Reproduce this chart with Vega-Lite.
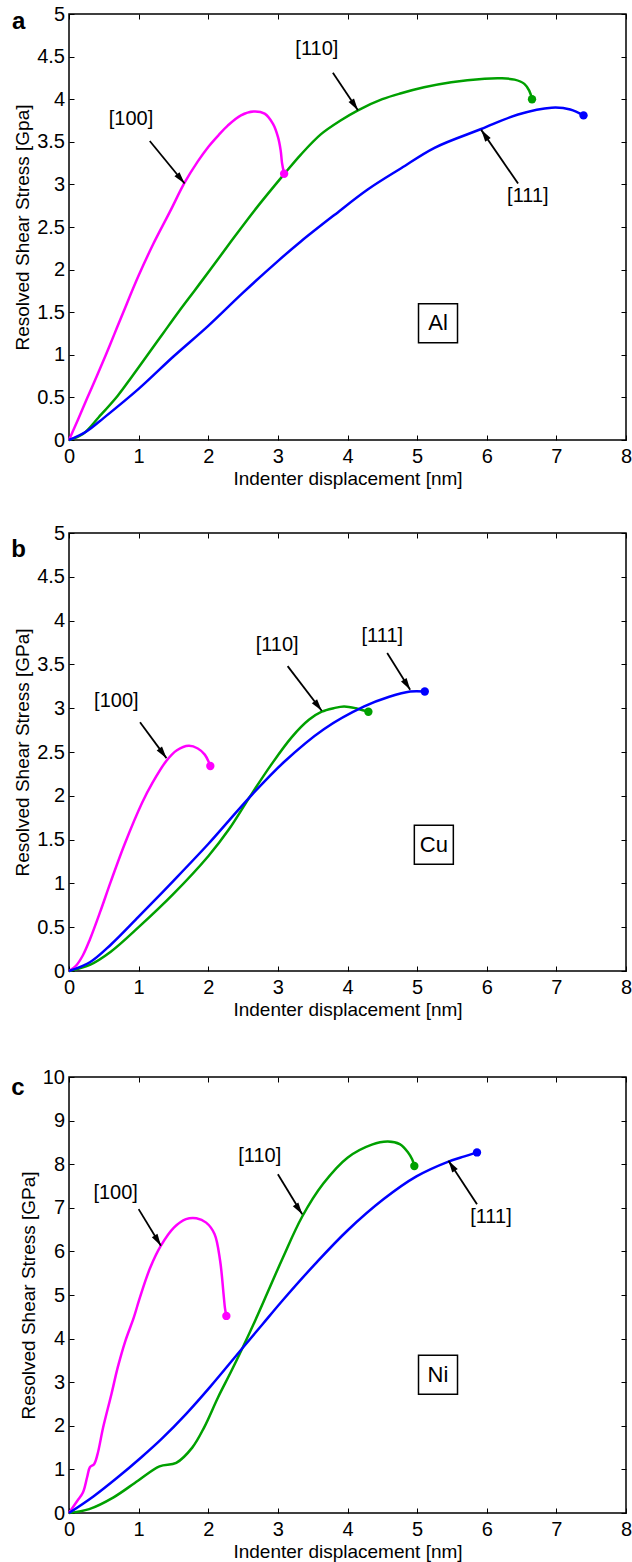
{
  "$schema": "https://vega.github.io/schema/vega-lite/v6.json",
  "padding": {"left": 10, "top": 3, "right": 5, "bottom": 5},
  "spacing": 32,
  "config": {
    "view": {"stroke": "black", "strokeWidth": 1.5},
    "font": "Liberation Sans",
    "axis": {"domain": false, "grid": false, "ticks": true, "tickSize": -5, "tickColor": "black", "tickWidth": 1,
      "labelFont": "Liberation Sans", "labelFontSize": 20, "labelColor": "black", "labelFlush": false, "labelOverlap": false,
      "titleFont": "Liberation Sans", "titleFontSize": 19, "titleFontWeight": "normal", "titleColor": "black"},
    "text": {"font": "Liberation Sans", "color": "black"}
  },
  "datasets": {
    "curves": [
      {"p":"a","dir":"[100]","x":0,"y":0},{"p":"a","dir":"[100]","x":0.13,"y":0.24},{"p":"a","dir":"[100]","x":0.26,"y":0.49},{"p":"a","dir":"[100]","x":0.4,"y":0.75},{"p":"a","dir":"[100]","x":0.53,"y":1.0},{"p":"a","dir":"[100]","x":0.65,"y":1.24},{"p":"a","dir":"[100]","x":0.78,"y":1.5},{"p":"a","dir":"[100]","x":1.0,"y":1.93},{"p":"a","dir":"[100]","x":1.21,"y":2.3},{"p":"a","dir":"[100]","x":1.45,"y":2.68},{"p":"a","dir":"[100]","x":1.66,"y":3.02},{"p":"a","dir":"[100]","x":1.85,"y":3.27},{"p":"a","dir":"[100]","x":2.0,"y":3.44},{"p":"a","dir":"[100]","x":2.15,"y":3.58},{"p":"a","dir":"[100]","x":2.28,"y":3.69},{"p":"a","dir":"[100]","x":2.47,"y":3.81},{"p":"a","dir":"[100]","x":2.65,"y":3.855},{"p":"a","dir":"[100]","x":2.81,"y":3.83},{"p":"a","dir":"[100]","x":2.93,"y":3.71},{"p":"a","dir":"[100]","x":3.0,"y":3.56},{"p":"a","dir":"[100]","x":3.04,"y":3.4},{"p":"a","dir":"[100]","x":3.06,"y":3.25},{"p":"a","dir":"[100]","x":3.09,"y":3.125},
      {"p":"a","dir":"[110]","x":0,"y":0},{"p":"a","dir":"[110]","x":0.2,"y":0.07},{"p":"a","dir":"[110]","x":0.43,"y":0.27},{"p":"a","dir":"[110]","x":0.7,"y":0.52},{"p":"a","dir":"[110]","x":0.9,"y":0.74},{"p":"a","dir":"[110]","x":1.13,"y":1.0},{"p":"a","dir":"[110]","x":1.35,"y":1.25},{"p":"a","dir":"[110]","x":1.57,"y":1.5},{"p":"a","dir":"[110]","x":1.8,"y":1.75},{"p":"a","dir":"[110]","x":2.03,"y":2.0},{"p":"a","dir":"[110]","x":2.3,"y":2.3},{"p":"a","dir":"[110]","x":2.67,"y":2.7},{"p":"a","dir":"[110]","x":3.09,"y":3.12},{"p":"a","dir":"[110]","x":3.33,"y":3.35},{"p":"a","dir":"[110]","x":3.62,"y":3.59},{"p":"a","dir":"[110]","x":3.9,"y":3.75},{"p":"a","dir":"[110]","x":4.15,"y":3.87},{"p":"a","dir":"[110]","x":4.5,"y":4.0},{"p":"a","dir":"[110]","x":4.77,"y":4.07},{"p":"a","dir":"[110]","x":5.1,"y":4.14},{"p":"a","dir":"[110]","x":5.49,"y":4.2},{"p":"a","dir":"[110]","x":5.97,"y":4.24},{"p":"a","dir":"[110]","x":6.2,"y":4.245},{"p":"a","dir":"[110]","x":6.4,"y":4.23},{"p":"a","dir":"[110]","x":6.54,"y":4.18},{"p":"a","dir":"[110]","x":6.61,"y":4.1},{"p":"a","dir":"[110]","x":6.65,"y":4.0},
      {"p":"a","dir":"[111]","x":0,"y":0},{"p":"a","dir":"[111]","x":0.25,"y":0.1},{"p":"a","dir":"[111]","x":0.5,"y":0.26},{"p":"a","dir":"[111]","x":1.0,"y":0.6},{"p":"a","dir":"[111]","x":1.5,"y":0.98},{"p":"a","dir":"[111]","x":2.0,"y":1.34},{"p":"a","dir":"[111]","x":2.5,"y":1.73},{"p":"a","dir":"[111]","x":3.0,"y":2.1},{"p":"a","dir":"[111]","x":3.33,"y":2.33},{"p":"a","dir":"[111]","x":3.81,"y":2.64},{"p":"a","dir":"[111]","x":4.29,"y":2.94},{"p":"a","dir":"[111]","x":4.77,"y":3.19},{"p":"a","dir":"[111]","x":5.25,"y":3.43},{"p":"a","dir":"[111]","x":5.92,"y":3.65},{"p":"a","dir":"[111]","x":6.45,"y":3.82},{"p":"a","dir":"[111]","x":6.93,"y":3.9},{"p":"a","dir":"[111]","x":7.2,"y":3.88},{"p":"a","dir":"[111]","x":7.39,"y":3.81},
      {"p":"b","dir":"[100]","x":0,"y":0},{"p":"b","dir":"[100]","x":0.1,"y":0.06},{"p":"b","dir":"[100]","x":0.2,"y":0.18},{"p":"b","dir":"[100]","x":0.3,"y":0.36},{"p":"b","dir":"[100]","x":0.45,"y":0.68},{"p":"b","dir":"[100]","x":0.6,"y":1.02},{"p":"b","dir":"[100]","x":0.8,"y":1.45},{"p":"b","dir":"[100]","x":1.05,"y":1.92},{"p":"b","dir":"[100]","x":1.2,"y":2.15},{"p":"b","dir":"[100]","x":1.4,"y":2.4},{"p":"b","dir":"[100]","x":1.55,"y":2.52},{"p":"b","dir":"[100]","x":1.72,"y":2.57},{"p":"b","dir":"[100]","x":1.85,"y":2.54},{"p":"b","dir":"[100]","x":1.95,"y":2.47},{"p":"b","dir":"[100]","x":2.01,"y":2.38},{"p":"b","dir":"[100]","x":2.03,"y":2.34},
      {"p":"b","dir":"[110]","x":0,"y":0},{"p":"b","dir":"[110]","x":0.3,"y":0.07},{"p":"b","dir":"[110]","x":0.6,"y":0.22},{"p":"b","dir":"[110]","x":1.0,"y":0.5},{"p":"b","dir":"[110]","x":1.5,"y":0.88},{"p":"b","dir":"[110]","x":2.0,"y":1.31},{"p":"b","dir":"[110]","x":2.3,"y":1.62},{"p":"b","dir":"[110]","x":2.59,"y":1.98},{"p":"b","dir":"[110]","x":2.9,"y":2.35},{"p":"b","dir":"[110]","x":3.2,"y":2.67},{"p":"b","dir":"[110]","x":3.45,"y":2.87},{"p":"b","dir":"[110]","x":3.63,"y":2.96},{"p":"b","dir":"[110]","x":3.8,"y":3.0},{"p":"b","dir":"[110]","x":3.95,"y":3.02},{"p":"b","dir":"[110]","x":4.12,"y":3.0},{"p":"b","dir":"[110]","x":4.25,"y":2.97},{"p":"b","dir":"[110]","x":4.3,"y":2.96},
      {"p":"b","dir":"[111]","x":0,"y":0},{"p":"b","dir":"[111]","x":0.3,"y":0.1},{"p":"b","dir":"[111]","x":0.6,"y":0.3},{"p":"b","dir":"[111]","x":1.0,"y":0.62},{"p":"b","dir":"[111]","x":1.5,"y":1.03},{"p":"b","dir":"[111]","x":2.0,"y":1.45},{"p":"b","dir":"[111]","x":2.3,"y":1.72},{"p":"b","dir":"[111]","x":2.59,"y":1.98},{"p":"b","dir":"[111]","x":3.08,"y":2.38},{"p":"b","dir":"[111]","x":3.66,"y":2.76},{"p":"b","dir":"[111]","x":4.24,"y":3.02},{"p":"b","dir":"[111]","x":4.6,"y":3.13},{"p":"b","dir":"[111]","x":4.9,"y":3.19},{"p":"b","dir":"[111]","x":5.11,"y":3.19},
      {"p":"c","dir":"[100]","x":0,"y":0},{"p":"c","dir":"[100]","x":0.12,"y":0.28},{"p":"c","dir":"[100]","x":0.2,"y":0.47},{"p":"c","dir":"[100]","x":0.26,"y":0.82},{"p":"c","dir":"[100]","x":0.3,"y":1.05},{"p":"c","dir":"[100]","x":0.36,"y":1.12},{"p":"c","dir":"[100]","x":0.41,"y":1.35},{"p":"c","dir":"[100]","x":0.49,"y":1.96},{"p":"c","dir":"[100]","x":0.61,"y":2.73},{"p":"c","dir":"[100]","x":0.7,"y":3.34},{"p":"c","dir":"[100]","x":0.81,"y":3.95},{"p":"c","dir":"[100]","x":0.93,"y":4.48},{"p":"c","dir":"[100]","x":1.01,"y":4.9},{"p":"c","dir":"[100]","x":1.16,"y":5.6},{"p":"c","dir":"[100]","x":1.32,"y":6.13},{"p":"c","dir":"[100]","x":1.51,"y":6.55},{"p":"c","dir":"[100]","x":1.68,"y":6.74},{"p":"c","dir":"[100]","x":1.83,"y":6.76},{"p":"c","dir":"[100]","x":1.97,"y":6.66},{"p":"c","dir":"[100]","x":2.09,"y":6.4},{"p":"c","dir":"[100]","x":2.17,"y":5.79},{"p":"c","dir":"[100]","x":2.22,"y":5.02},{"p":"c","dir":"[100]","x":2.24,"y":4.7},{"p":"c","dir":"[100]","x":2.26,"y":4.52},
      {"p":"c","dir":"[110]","x":0,"y":0},{"p":"c","dir":"[110]","x":0.29,"y":0.09},{"p":"c","dir":"[110]","x":0.64,"y":0.36},{"p":"c","dir":"[110]","x":0.99,"y":0.74},{"p":"c","dir":"[110]","x":1.3,"y":1.07},{"p":"c","dir":"[110]","x":1.54,"y":1.15},{"p":"c","dir":"[110]","x":1.77,"y":1.5},{"p":"c","dir":"[110]","x":1.94,"y":1.96},{"p":"c","dir":"[110]","x":2.14,"y":2.65},{"p":"c","dir":"[110]","x":2.33,"y":3.25},{"p":"c","dir":"[110]","x":2.49,"y":3.78},{"p":"c","dir":"[110]","x":2.67,"y":4.4},{"p":"c","dir":"[110]","x":2.85,"y":5.05},{"p":"c","dir":"[110]","x":3.07,"y":5.85},{"p":"c","dir":"[110]","x":3.35,"y":6.8},{"p":"c","dir":"[110]","x":3.65,"y":7.55},{"p":"c","dir":"[110]","x":4.0,"y":8.15},{"p":"c","dir":"[110]","x":4.35,"y":8.45},{"p":"c","dir":"[110]","x":4.58,"y":8.52},{"p":"c","dir":"[110]","x":4.75,"y":8.46},{"p":"c","dir":"[110]","x":4.87,"y":8.27},{"p":"c","dir":"[110]","x":4.93,"y":8.11},{"p":"c","dir":"[110]","x":4.96,"y":7.96},
      {"p":"c","dir":"[111]","x":0,"y":0},{"p":"c","dir":"[111]","x":0.35,"y":0.38},{"p":"c","dir":"[111]","x":0.7,"y":0.82},{"p":"c","dir":"[111]","x":1.04,"y":1.28},{"p":"c","dir":"[111]","x":1.33,"y":1.7},{"p":"c","dir":"[111]","x":1.68,"y":2.27},{"p":"c","dir":"[111]","x":2.03,"y":2.9},{"p":"c","dir":"[111]","x":2.49,"y":3.78},{"p":"c","dir":"[111]","x":2.78,"y":4.33},{"p":"c","dir":"[111]","x":3.07,"y":4.88},{"p":"c","dir":"[111]","x":3.54,"y":5.72},{"p":"c","dir":"[111]","x":4.0,"y":6.48},{"p":"c","dir":"[111]","x":4.52,"y":7.2},{"p":"c","dir":"[111]","x":4.99,"y":7.72},{"p":"c","dir":"[111]","x":5.45,"y":8.06},{"p":"c","dir":"[111]","x":5.68,"y":8.18},{"p":"c","dir":"[111]","x":5.86,"y":8.27}
    ],
    "ends": [
      {"p":"a","dir":"[100]","x":3.09,"y":3.125},{"p":"a","dir":"[110]","x":6.65,"y":4.0},{"p":"a","dir":"[111]","x":7.39,"y":3.81},
      {"p":"b","dir":"[100]","x":2.03,"y":2.34},{"p":"b","dir":"[110]","x":4.3,"y":2.96},{"p":"b","dir":"[111]","x":5.11,"y":3.19},
      {"p":"c","dir":"[100]","x":2.26,"y":4.52},{"p":"c","dir":"[110]","x":4.96,"y":7.96},{"p":"c","dir":"[111]","x":5.86,"y":8.27}
    ],
    "notes": [
      {"p":"a","label":"[100]","x":0.89,"y":3.77},{"p":"a","label":"[110]","x":3.56,"y":4.59},{"p":"a","label":"[111]","x":6.59,"y":2.86},
      {"p":"b","label":"[100]","x":0.68,"y":3.08},{"p":"b","label":"[110]","x":2.99,"y":3.72},{"p":"b","label":"[111]","x":4.5,"y":3.82},
      {"p":"c","label":"[100]","x":0.67,"y":7.35},{"p":"c","label":"[110]","x":2.74,"y":8.19},{"p":"c","label":"[111]","x":6.06,"y":6.79}
    ],
    "arrows": [
      {"p":"a","x":1.16,"y":3.51,"x2":1.66,"y2":3.01,"angle":140.8},{"p":"a","x":3.79,"y":4.31,"x2":4.15,"y2":3.87,"angle":146.3},{"p":"a","x":6.45,"y":3.01,"x2":5.92,"y2":3.64,"angle":-34.5},
      {"p":"b","x":1.02,"y":2.84,"x2":1.4,"y2":2.43,"angle":143.7},{"p":"b","x":3.14,"y":3.48,"x2":3.63,"y2":2.97,"angle":142.7},{"p":"b","x":4.57,"y":3.63,"x2":4.9,"y2":3.21,"angle":148},
      {"p":"c","x":1.0,"y":6.97,"x2":1.32,"y2":6.13,"angle":148.7},{"p":"c","x":3.0,"y":7.77,"x2":3.35,"y2":6.85,"angle":146.3},{"p":"c","x":5.86,"y":7.08,"x2":5.45,"y2":8.08,"angle":-33.2}
    ],
    "boxes": [
      {"p":"a","label":"Al","x":5.3,"y":1.37},{"p":"b","label":"Cu","x":5.24,"y":1.44},{"p":"c","label":"Ni","x":5.3,"y":3.17}
    ],
    "letters": [
      {"p":"a","label":"a","x":-0.82,"y":4.82},{"p":"b","label":"b","x":-0.83,"y":4.73},{"p":"c","label":"c","x":-0.83,"y":9.59}
    ]
  },
  "vconcat": [
    {
      "width": 557, "height": 426,
      "layer": [
        {"data": {"name": "curves"}, "transform": [{"filter": "datum.p === 'a'"}],
         "mark": {"type": "line", "strokeWidth": 2.5, "interpolate": "catmull-rom"},
         "encoding": {
           "x": {"field": "x", "type": "quantitative", "scale": {"domain": [0, 8], "nice": false, "zero": false}, "axis": {"orient": "bottom", "values": [0,1,2,3,4,5,6,7,8], "title": "Indenter displacement [nm]", "labelPadding": 11.5, "titlePadding": 3}},
           "y": {"field": "y", "type": "quantitative", "scale": {"domain": [0, 5], "nice": false}, "axis": {"orient": "left", "values": [0,0.5,1,1.5,2,2.5,3,3.5,4,4.5,5], "format": "~f", "title": "Resolved Shear Stress [Gpa]", "labelPadding": 9.5, "titlePadding": 4}},
           "color": {"field": "dir", "type": "nominal", "scale": {"domain": ["[100]","[110]","[111]"], "range": ["#ff00ff","#00a000","#0000ff"]}, "legend": null}
         }},
        {"data": {"name": "ends"}, "transform": [{"filter": "datum.p === 'a'"}],
         "mark": {"type": "point", "shape": "circle", "filled": true, "size": 70, "opacity": 1},
         "encoding": {
           "x": {"field": "x", "type": "quantitative", "axis": {"orient": "top", "values": [0,1,2,3,4,5,6,7,8], "labels": false, "title": null}},
           "y": {"field": "y", "type": "quantitative", "axis": {"orient": "right", "values": [0,0.5,1,1.5,2,2.5,3,3.5,4,4.5,5], "labels": false, "title": null}},
           "color": {"field": "dir", "type": "nominal", "legend": null}
         }},
        {"data": {"name": "arrows"}, "transform": [{"filter": "datum.p === 'a'"}],
         "mark": {"type": "rule", "color": "black", "strokeWidth": 1.8},
         "encoding": {"x": {"field": "x", "type": "quantitative", "axis": null}, "y": {"field": "y", "type": "quantitative", "axis": null}, "x2": {"field": "x2"}, "y2": {"field": "y2"}}},
        {"data": {"name": "arrows"}, "transform": [{"filter": "datum.p === 'a'"}],
         "mark": {"type": "point", "shape": "M0,0L-0.55,2L0.55,2Z", "filled": true, "color": "black", "size": 144, "opacity": 1},
         "encoding": {"x": {"field": "x2", "type": "quantitative", "axis": null}, "y": {"field": "y2", "type": "quantitative", "axis": null}, "angle": {"field": "angle", "type": "quantitative", "scale": null}}},
        {"data": {"name": "notes"}, "transform": [{"filter": "datum.p === 'a'"}],
         "mark": {"type": "text", "fontSize": 20, "align": "center", "baseline": "middle"},
         "encoding": {"x": {"field": "x", "type": "quantitative", "axis": null}, "y": {"field": "y", "type": "quantitative", "axis": null}, "text": {"field": "label"}}},
        {"data": {"name": "boxes"}, "transform": [{"filter": "datum.p === 'a'"}],
         "mark": {"type": "point", "shape": "square", "size": 1521, "fill": "white", "stroke": "black", "strokeWidth": 1.5, "opacity": 1},
         "encoding": {"x": {"field": "x", "type": "quantitative", "axis": null}, "y": {"field": "y", "type": "quantitative", "axis": null}}},
        {"data": {"name": "boxes"}, "transform": [{"filter": "datum.p === 'a'"}],
         "mark": {"type": "text", "fontSize": 22, "align": "center", "baseline": "middle"},
         "encoding": {"x": {"field": "x", "type": "quantitative", "axis": null}, "y": {"field": "y", "type": "quantitative", "axis": null}, "text": {"field": "label"}}},
        {"data": {"name": "letters"}, "transform": [{"filter": "datum.p === 'a'"}],
         "mark": {"type": "text", "fontSize": 24, "fontWeight": "bold", "align": "left", "baseline": "alphabetic"},
         "encoding": {"x": {"field": "x", "type": "quantitative", "axis": null}, "y": {"field": "y", "type": "quantitative", "axis": null}, "text": {"field": "label"}}}
      ],
      "resolve": {"axis": {"x": "independent", "y": "independent"}}
    },
    {
      "width": 557, "height": 438,
      "layer": [
        {"data": {"name": "curves"}, "transform": [{"filter": "datum.p === 'b'"}],
         "mark": {"type": "line", "strokeWidth": 2.5, "interpolate": "catmull-rom"},
         "encoding": {
           "x": {"field": "x", "type": "quantitative", "scale": {"domain": [0, 8], "nice": false, "zero": false}, "axis": {"orient": "bottom", "values": [0,1,2,3,4,5,6,7,8], "title": "Indenter displacement [nm]", "labelPadding": 11.5, "titlePadding": 3}},
           "y": {"field": "y", "type": "quantitative", "scale": {"domain": [0, 5], "nice": false}, "axis": {"orient": "left", "values": [0,0.5,1,1.5,2,2.5,3,3.5,4,4.5,5], "format": "~f", "title": "Resolved Shear Stress [GPa]", "labelPadding": 9.5, "titlePadding": 4}},
           "color": {"field": "dir", "type": "nominal", "scale": {"domain": ["[100]","[110]","[111]"], "range": ["#ff00ff","#00a000","#0000ff"]}, "legend": null}
         }},
        {"data": {"name": "ends"}, "transform": [{"filter": "datum.p === 'b'"}],
         "mark": {"type": "point", "shape": "circle", "filled": true, "size": 70, "opacity": 1},
         "encoding": {
           "x": {"field": "x", "type": "quantitative", "axis": {"orient": "top", "values": [0,1,2,3,4,5,6,7,8], "labels": false, "title": null}},
           "y": {"field": "y", "type": "quantitative", "axis": {"orient": "right", "values": [0,0.5,1,1.5,2,2.5,3,3.5,4,4.5,5], "labels": false, "title": null}},
           "color": {"field": "dir", "type": "nominal", "legend": null}
         }},
        {"data": {"name": "arrows"}, "transform": [{"filter": "datum.p === 'b'"}],
         "mark": {"type": "rule", "color": "black", "strokeWidth": 1.8},
         "encoding": {"x": {"field": "x", "type": "quantitative", "axis": null}, "y": {"field": "y", "type": "quantitative", "axis": null}, "x2": {"field": "x2"}, "y2": {"field": "y2"}}},
        {"data": {"name": "arrows"}, "transform": [{"filter": "datum.p === 'b'"}],
         "mark": {"type": "point", "shape": "M0,0L-0.55,2L0.55,2Z", "filled": true, "color": "black", "size": 144, "opacity": 1},
         "encoding": {"x": {"field": "x2", "type": "quantitative", "axis": null}, "y": {"field": "y2", "type": "quantitative", "axis": null}, "angle": {"field": "angle", "type": "quantitative", "scale": null}}},
        {"data": {"name": "notes"}, "transform": [{"filter": "datum.p === 'b'"}],
         "mark": {"type": "text", "fontSize": 20, "align": "center", "baseline": "middle"},
         "encoding": {"x": {"field": "x", "type": "quantitative", "axis": null}, "y": {"field": "y", "type": "quantitative", "axis": null}, "text": {"field": "label"}}},
        {"data": {"name": "boxes"}, "transform": [{"filter": "datum.p === 'b'"}],
         "mark": {"type": "point", "shape": "square", "size": 1521, "fill": "white", "stroke": "black", "strokeWidth": 1.5, "opacity": 1},
         "encoding": {"x": {"field": "x", "type": "quantitative", "axis": null}, "y": {"field": "y", "type": "quantitative", "axis": null}}},
        {"data": {"name": "boxes"}, "transform": [{"filter": "datum.p === 'b'"}],
         "mark": {"type": "text", "fontSize": 22, "align": "center", "baseline": "middle"},
         "encoding": {"x": {"field": "x", "type": "quantitative", "axis": null}, "y": {"field": "y", "type": "quantitative", "axis": null}, "text": {"field": "label"}}},
        {"data": {"name": "letters"}, "transform": [{"filter": "datum.p === 'b'"}],
         "mark": {"type": "text", "fontSize": 24, "fontWeight": "bold", "align": "left", "baseline": "alphabetic"},
         "encoding": {"x": {"field": "x", "type": "quantitative", "axis": null}, "y": {"field": "y", "type": "quantitative", "axis": null}, "text": {"field": "label"}}}
      ],
      "resolve": {"axis": {"x": "independent", "y": "independent"}}
    },
    {
      "width": 557, "height": 436,
      "layer": [
        {"data": {"name": "curves"}, "transform": [{"filter": "datum.p === 'c'"}],
         "mark": {"type": "line", "strokeWidth": 2.5, "interpolate": "catmull-rom"},
         "encoding": {
           "x": {"field": "x", "type": "quantitative", "scale": {"domain": [0, 8], "nice": false, "zero": false}, "axis": {"orient": "bottom", "values": [0,1,2,3,4,5,6,7,8], "title": "Indenter displacement [nm]", "labelPadding": 11.5, "titlePadding": 3}},
           "y": {"field": "y", "type": "quantitative", "scale": {"domain": [0, 10], "nice": false}, "axis": {"orient": "left", "values": [0,1,2,3,4,5,6,7,8,9,10], "format": "d", "title": "Resolved Shear Stress [GPa]", "labelPadding": 9.5, "titlePadding": 4}},
           "color": {"field": "dir", "type": "nominal", "scale": {"domain": ["[100]","[110]","[111]"], "range": ["#ff00ff","#00a000","#0000ff"]}, "legend": null}
         }},
        {"data": {"name": "ends"}, "transform": [{"filter": "datum.p === 'c'"}],
         "mark": {"type": "point", "shape": "circle", "filled": true, "size": 70, "opacity": 1},
         "encoding": {
           "x": {"field": "x", "type": "quantitative", "axis": {"orient": "top", "values": [0,1,2,3,4,5,6,7,8], "labels": false, "title": null, "minExtent": 23}},
           "y": {"field": "y", "type": "quantitative", "axis": {"orient": "right", "values": [0,1,2,3,4,5,6,7,8,9,10], "labels": false, "title": null}},
           "color": {"field": "dir", "type": "nominal", "legend": null}
         }},
        {"data": {"name": "arrows"}, "transform": [{"filter": "datum.p === 'c'"}],
         "mark": {"type": "rule", "color": "black", "strokeWidth": 1.8},
         "encoding": {"x": {"field": "x", "type": "quantitative", "axis": null}, "y": {"field": "y", "type": "quantitative", "axis": null}, "x2": {"field": "x2"}, "y2": {"field": "y2"}}},
        {"data": {"name": "arrows"}, "transform": [{"filter": "datum.p === 'c'"}],
         "mark": {"type": "point", "shape": "M0,0L-0.55,2L0.55,2Z", "filled": true, "color": "black", "size": 144, "opacity": 1},
         "encoding": {"x": {"field": "x2", "type": "quantitative", "axis": null}, "y": {"field": "y2", "type": "quantitative", "axis": null}, "angle": {"field": "angle", "type": "quantitative", "scale": null}}},
        {"data": {"name": "notes"}, "transform": [{"filter": "datum.p === 'c'"}],
         "mark": {"type": "text", "fontSize": 20, "align": "center", "baseline": "middle"},
         "encoding": {"x": {"field": "x", "type": "quantitative", "axis": null}, "y": {"field": "y", "type": "quantitative", "axis": null}, "text": {"field": "label"}}},
        {"data": {"name": "boxes"}, "transform": [{"filter": "datum.p === 'c'"}],
         "mark": {"type": "point", "shape": "square", "size": 1521, "fill": "white", "stroke": "black", "strokeWidth": 1.5, "opacity": 1},
         "encoding": {"x": {"field": "x", "type": "quantitative", "axis": null}, "y": {"field": "y", "type": "quantitative", "axis": null}}},
        {"data": {"name": "boxes"}, "transform": [{"filter": "datum.p === 'c'"}],
         "mark": {"type": "text", "fontSize": 22, "align": "center", "baseline": "middle"},
         "encoding": {"x": {"field": "x", "type": "quantitative", "axis": null}, "y": {"field": "y", "type": "quantitative", "axis": null}, "text": {"field": "label"}}},
        {"data": {"name": "letters"}, "transform": [{"filter": "datum.p === 'c'"}],
         "mark": {"type": "text", "fontSize": 24, "fontWeight": "bold", "align": "left", "baseline": "alphabetic"},
         "encoding": {"x": {"field": "x", "type": "quantitative", "axis": null}, "y": {"field": "y", "type": "quantitative", "axis": null}, "text": {"field": "label"}}}
      ],
      "resolve": {"axis": {"x": "independent", "y": "independent"}}
    }
  ]
}
